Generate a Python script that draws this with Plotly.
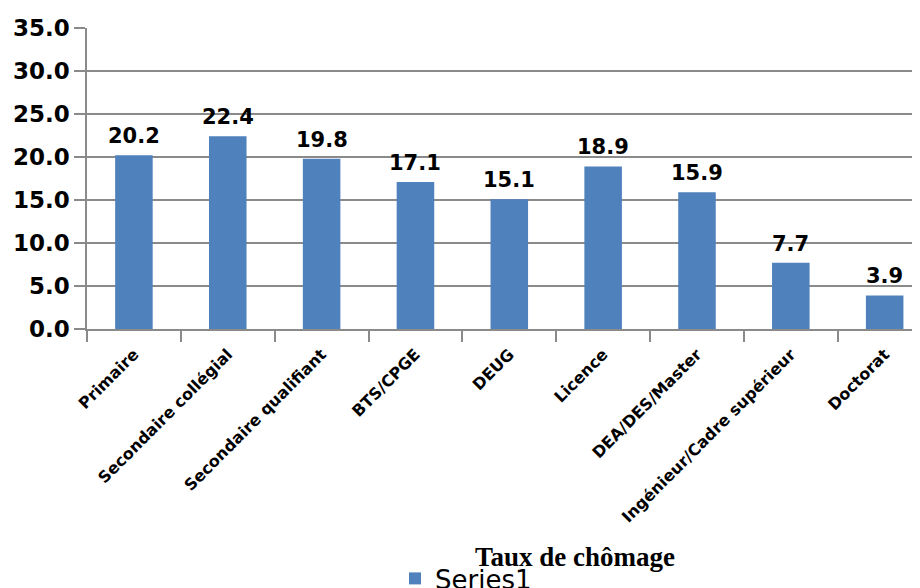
import plotly.graph_objects as go

categories = ["Primaire", "Secondaire collégial", "Secondaire qualifiant", "BTS/CPGE",
              "DEUG", "Licence", "DEA/DES/Master", "Ingénieur/Cadre supérieur", "Doctorat"]
values = [20.2, 22.4, 19.8, 17.1, 15.1, 18.9, 15.9, 7.7, 3.9]
y_ticks = [0, 5, 10, 15, 20, 25, 30, 35]

# the page body adds an 8px margin, so the figure is 8px smaller than the window
W, H = 912, 580
L, R, T, B = 79, 0, 20, 259
PW, PH = W - L - R, H - T - B
grid = "#8a8a8a"

fig = go.Figure()
fig.add_trace(go.Bar(
    x=categories, y=values, name="Series1",
    marker=dict(color="#4F81BD", line=dict(width=0)),
    width=0.4,
))

# data labels above the bars
for c, v in zip(categories, values):
    fig.add_annotation(
        x=c, y=v, text=f"<b>{v:.1f}</b>", showarrow=False,
        yanchor="bottom", yshift=5,
        font=dict(family="DejaVu Sans", size=21, color="black"),
    )

fig.add_annotation(
    xref="paper", yref="paper", x=(567 - L) / PW, y=(T + PH - 549) / PH,
    text="<b>Taux de chômage</b>", showarrow=False, xanchor="center", yanchor="middle",
    font=dict(family="Liberation Serif", size=27, color="black"),
)

fig.update_layout(
    width=W, height=H,
    margin=dict(l=L, r=R, t=T, b=B, pad=0, autoexpand=False),
    plot_bgcolor="white", paper_bgcolor="white",
    showlegend=True,
    legend=dict(
        x=(387 - L) / PW, y=(T + PH - 547) / PH,
        xanchor="left", yanchor="top", orientation="h",
        font=dict(family="DejaVu Sans", size=26, color="black"),
        bgcolor="rgba(0,0,0,0)", itemwidth=30,
    ),
    xaxis=dict(
        range=[-0.5, 8.5 - 11.6 / 93.9], automargin=False,
        tickangle=-45, tickson="boundaries", ticklabelstandoff=8,
        ticks="outside", ticklen=11, tickcolor=grid, tickwidth=1.5,
        showline=True, linecolor=grid, linewidth=1.5,
        showgrid=False, zeroline=False,
        tickfont=dict(family="DejaVu Sans", size=16, color="black", weight="bold"),
    ),
    yaxis=dict(
        range=[0, 35], automargin=False,
        tickvals=y_ticks, ticktext=[f"{t:.1f}" for t in y_ticks],
        ticks="outside", ticklen=11, tickcolor=grid, tickwidth=1.5,
        showline=True, linecolor=grid, linewidth=1.5,
        showgrid=True, gridcolor=grid, gridwidth=1.5, zeroline=False,
        tickfont=dict(family="DejaVu Sans", size=23, color="black", weight="bold"),
    ),
)

fig.write_html("out.html")
